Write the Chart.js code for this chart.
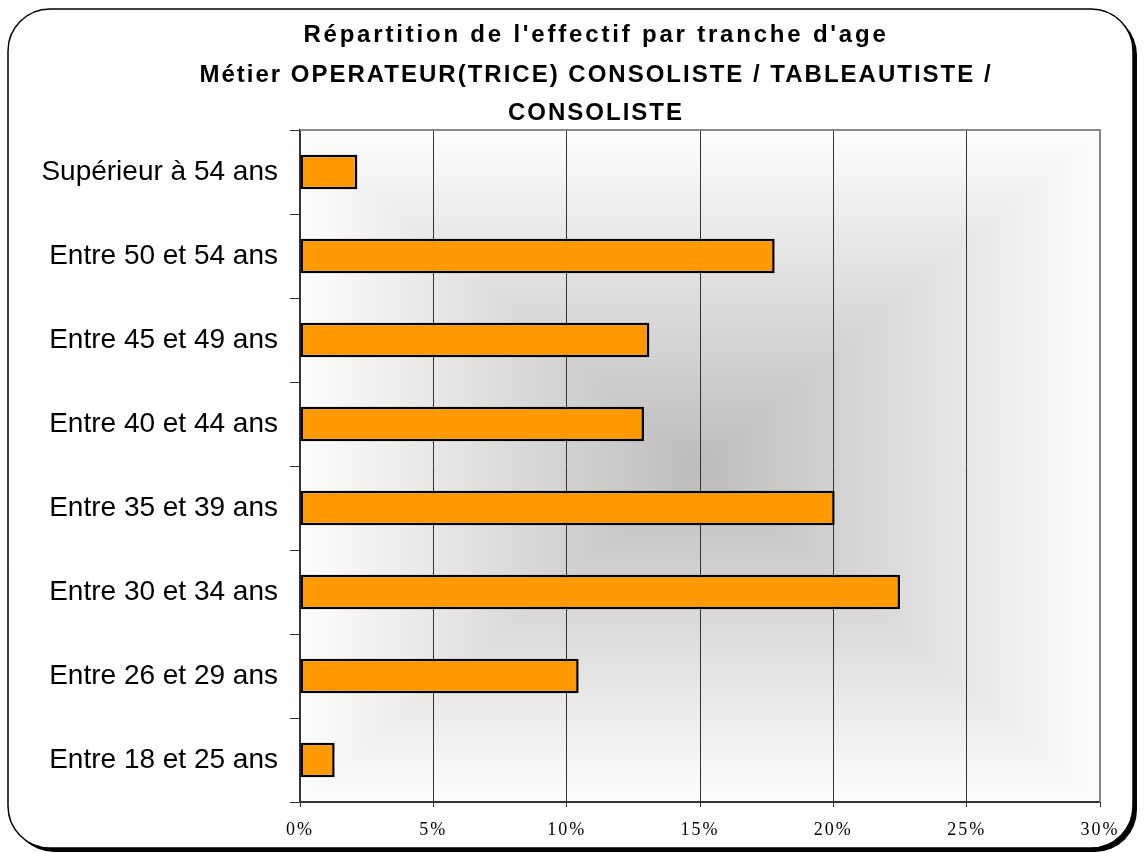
<!DOCTYPE html>
<html>
<head>
<meta charset="utf-8">
<script src="https://cdn.jsdelivr.net/npm/chart.js@4/dist/chart.umd.min.js"></script>
<style>
  html, body { margin: 0; padding: 0; background: #fff; }
  #wrap { width: 1144px; height: 853px; position: relative; }
</style>
</head>
<body>
<div id="wrap"><canvas id="ageChart" width="1144" height="853"></canvas></div>
<script>
// data
const categories = [
    'Supérieur à 54 ans',
    'Entre 50 et 54 ans',
    'Entre 45 et 49 ans',
    'Entre 40 et 44 ans',
    'Entre 35 et 39 ans',
    'Entre 30 et 34 ans',
    'Entre 26 et 29 ans',
    'Entre 18 et 25 ans'
];
const percentages = [2.15, 17.8, 13.1, 12.9, 20.05, 22.5, 10.45, 1.3];
const xTicks = [0, 5, 10, 15, 20, 25, 30];
const titleLines = [
    "Répartition de l'effectif par tranche d'age",
    'Métier OPERATEUR(TRICE) CONSOLISTE / TABLEAUTISTE /',
    'CONSOLISTE'
];

// rectangular "from center" shading of the plot area, built pixel by pixel
function shadePlot(ctx, a) {
    const w = Math.round(a.right - a.left), h = Math.round(a.bottom - a.top);
    const off = document.createElement('canvas');
    off.width = w; off.height = h;
    const octx = off.getContext('2d');
    const img = octx.createImageData(w, h);
    const hw = w / 2, hh = h / 2;
    for (let j = 0; j < h; j++) {
        for (let i = 0; i < w; i++) {
            const t = Math.max(Math.abs(i + 0.5 - hw) / hw, Math.abs(j + 0.5 - hh) / hh);
            const v = Math.round(188 + (253 - 188) * t);
            const k = (j * w + i) * 4;
            img.data[k] = v; img.data[k + 1] = v; img.data[k + 2] = v; img.data[k + 3] = 255;
        }
    }
    octx.putImageData(img, 0, 0);
    ctx.drawImage(off, a.left, a.top, w, h);
}

// frame, shaded background and title
const decor = {
    id: 'decor',
    afterLayout(chart) {
        const sx = chart.scales.x;
        if (sx && !sx._spaced) {
            const orig = sx.drawLabels;
            sx.drawLabels = function (area) {
                const c = this.ctx;
                c.save();
                c.letterSpacing = '2px';
                orig.call(this, area);
                c.letterSpacing = '0px';
                c.restore();
            };
            sx._spaced = true;
        }
    },
    beforeDraw(chart) {
        const ctx = chart.ctx;
        const x = 8, y = 9, w = 1125, h = 839, r = 42;
        ctx.save();
        ctx.fillStyle = '#fff';
        ctx.fillRect(0, 0, chart.width, chart.height);
        // shadow
        ctx.fillStyle = '#000';
        ctx.beginPath();
        ctx.roundRect(x + 4, y + 4, w, h, r);
        ctx.fill();
        // panel
        ctx.beginPath();
        ctx.roundRect(x, y, w, h, r);
        ctx.fillStyle = '#fff';
        ctx.fill();
        ctx.lineWidth = 1.5;
        ctx.strokeStyle = '#000';
        ctx.stroke();
        shadePlot(ctx, chart.chartArea);
        // title
        ctx.fillStyle = '#000';
        ctx.font = 'bold 24px "Liberation Sans", Arial, sans-serif';
        ctx.textAlign = 'center';
        ctx.textBaseline = 'middle';
        ctx.letterSpacing = '2.8px';
        ctx.fillText(titleLines[0], 596, 35);
        ctx.letterSpacing = '2px';
        ctx.fillText(titleLines[1], 596, 75);
        ctx.fillText(titleLines[2], 596, 113);
        ctx.letterSpacing = '0px';
        ctx.restore();
    },
    afterDatasetsDraw(chart) {
        const ctx = chart.ctx;
        const a = chart.chartArea;
        ctx.save();
        ctx.strokeStyle = '#888';
        ctx.lineWidth = 2;
        ctx.beginPath();
        ctx.moveTo(a.left, a.top);
        ctx.lineTo(a.right, a.top);
        ctx.lineTo(a.right, a.bottom);
        ctx.stroke();
        ctx.restore();
    }
};

new Chart(document.getElementById('ageChart').getContext('2d'), {
    type: 'bar',
    data: {
        labels: categories,
        datasets: [{
            data: percentages,
            backgroundColor: '#ff9900',
            borderColor: '#000',
            borderWidth: 2.5,
            borderSkipped: false,
            barPercentage: 0.41,
            categoryPercentage: 1
        }]
    },
    options: {
        indexAxis: 'y',
        responsive: false,
        animation: false,
        layout: { padding: { left: 0, top: 130, right: 44, bottom: 11 } },
        plugins: {
            legend: { display: false },
            tooltip: { enabled: false }
        },
        scales: {
            x: {
                min: 0,
                max: 30,
                afterBuildTicks(scale) {
                    scale.ticks = xTicks.map(v => ({ value: v }));
                },
                afterFit(scale) { scale.height = 40; },
                ticks: {
                    color: '#000',
                    padding: 12,
                    maxRotation: 0,
                    font: { family: '"Liberation Serif", "Times New Roman", serif', size: 18 },
                    callback: v => v + '%'
                },
                grid: { color: '#333', lineWidth: 1, tickLength: 5 },
                border: { color: '#333', width: 2 }
            },
            y: {
                afterFit(scale) { scale.width = 300; },
                ticks: {
                    color: '#000',
                    padding: 12,
                    font: { family: '"Liberation Sans", Arial, sans-serif', size: 28 }
                },
                grid: {
                    offset: true,
                    drawOnChartArea: false,
                    drawTicks: true,
                    tickLength: 10,
                    color: '#333'
                },
                border: { color: '#333', width: 2 }
            }
        }
    },
    plugins: [decor]
});
</script>
</body>
</html>
